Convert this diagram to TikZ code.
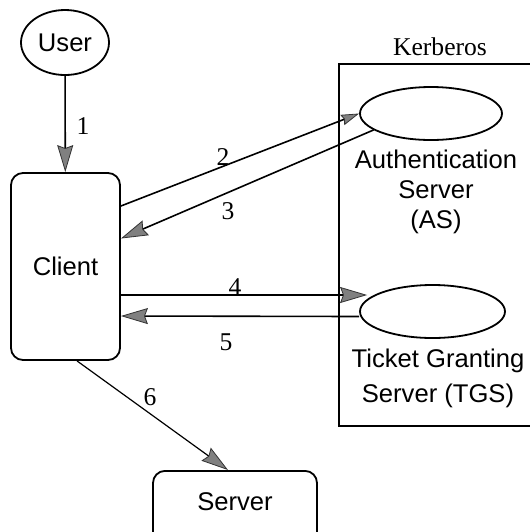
\documentclass[tikz,border=0pt]{standalone}
\usepackage{fontspec}
\setmainfont{Liberation Serif}
\setsansfont{Liberation Sans}
\usetikzlibrary{arrows.meta,shapes.geometric}
\begin{document}
\begin{tikzpicture}[x=0.5pt,y=-0.5pt,
  lab/.style={font=\fontsize{12.8}{15}\selectfont\rmfamily, inner sep=0pt},
  sans/.style={font=\fontsize{12.8}{15}\selectfont\sffamily},
  box/.style={draw, line width=0.9pt, rounded corners=6pt, sans},
  oval/.style={draw, ellipse, line width=0.9pt, inner sep=0pt},
  arr/.style={line width=0.8pt, -{Stealth[length=13.5pt,width=8pt,inset=1.5pt,fill=gray,color=black!80,line width=0.4pt]}},
  arrs/.style={line width=0.8pt, -{Stealth[length=9pt,width=5.5pt,inset=1pt,fill=gray,color=black!80,line width=0.4pt]}},
]
\useasboundingbox (0,0) rectangle (530,532);
\clip (0,0) rectangle (530,532);
\fill[white] (0,0) rectangle (530,532);

% nodes
\node[oval, sans, minimum width=44pt, minimum height=32.5pt] (user) at (65,42.5) {User};
\node[box, minimum width=54.5pt, minimum height=93.5pt] (client) at (65.5,266.5) {Client};
\node[draw, rectangle, line width=0.9pt, anchor=north west, minimum width=120pt, minimum height=181pt] (kerb) at (338,63) {};
\node[lab] (kl) at (440,47) {Kerberos};
\node[oval, minimum width=71pt, minimum height=26.5pt] (as) at (431,113.5) {};
\node[sans, align=center] (astext) at (436,192) {Authentication\\Server\\(AS)};
\node[oval, minimum width=72.5pt, minimum height=26.5pt] (tgs) at (432.5,311.5) {};
\node[sans, align=center, font=\fontsize{12.8}{17.5}\selectfont\sffamily] (tgstext) at (438,378) {Ticket Granting\\Server (TGS)};
\node[box, anchor=north, minimum width=82pt, minimum height=40pt, text height=5pt, text depth=5pt] (server) at (235,470) {Server};

% connectors
\draw[arr] (user) -- (client);
\draw[arrs] ([yshift=30.25pt]client.east) -- (as.west);
\draw[arr] (as.196) -- ([yshift=14pt]client.east);
\draw[arr] ([yshift=-14.25pt]client.east) -- ([yshift=8.25pt,xshift=4pt]tgs.west);
\draw[arr] ([yshift=-2.5pt]tgs.west) -- ([yshift=-24.75pt]client.east);
\draw[arr, line width=0.6pt] ([xshift=5.75pt]client.south) -- ([xshift=-3.5pt]server.north);

% labels
\node[lab] (l1) at (83,126) {1};
\node[lab] (l2) at (223,157) {2};
\node[lab] (l3) at (228,211) {3};
\node[lab] (l4) at (235,287) {4};
\node[lab] (l5) at (226,342) {5};
\node[lab] (l6) at (150,397) {6};
\end{tikzpicture}
\end{document}
